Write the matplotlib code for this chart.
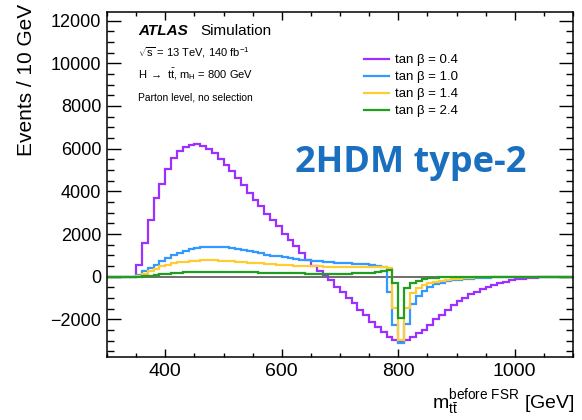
import numpy as np
import matplotlib.pyplot as plt
from matplotlib.ticker import MultipleLocator
from matplotlib.lines import Line2D

plt.rcParams['font.family'] = ['Liberation Sans', 'DejaVu Sans']
plt.rcParams['mathtext.fontset'] = 'custom'
plt.rcParams['mathtext.rm'] = 'Liberation Sans'
plt.rcParams['mathtext.it'] = 'Liberation Sans:italic'
plt.rcParams['mathtext.bf'] = 'Liberation Sans:bold'

# bin edges: 300 -> 1100 GeV, 10 GeV wide
edges = np.arange(300, 1101, 10)

# events per bin, first bin at 300 GeV
tanb_04 = [0, 0, 0, 0, 0,
           550, 1570, 2650, 3700, 4360, 5060, 5570, 5910, 6070, 6180, 6200,
           6120, 5960, 5800, 5530, 5210, 4930, 4620, 4280, 3910, 3600,
           3290, 2950, 2670, 2360, 2020, 1735, 1420, 1110, 800, 490,
           280, 60, -140, -460, -700, -1010, -1245, -1556, -1790, -2100,
           -2334, -2568, -2800, -2960, -3040, -2960, -2800, -2645, -2500, -2250,
           -2000, -1770, -1550, -1320, -1140, -980, -830, -700, -590, -480,
           -380, -300, -230, -170, -120, -85, -60, -40, -25, -15,
           -8, -4, -2, -1]
tanb_10 = [0, 0, 0, 0, 0,
           100, 257, 412, 568, 724, 879, 1004, 1112, 1222, 1300, 1346,
           1377, 1393, 1395, 1385, 1370, 1340, 1290, 1235, 1190, 1140,
           1090, 1040, 990, 950, 910, 870, 835, 800, 770, 740,
           715, 690, 670, 650, 635, 620, 605, 590, 575, 555,
           525, 460, -700, -2250, -3100, -2200, -1300, -900, -650, -480,
           -360, -280, -220, -175, -140, -110, -85, -65, -50, -38,
           -28, -20, -15, -10, -7, -5, -3, -2, -1, 0,
           0, 0, 0, 0]
tanb_14 = [0, 0, 0, 0, 0,
           30, 130, 250, 370, 480, 560, 620, 670, 710, 740, 755,
           765, 770, 765, 755, 740, 720, 700, 680, 660, 640,
           620, 600, 580, 565, 550, 535, 520, 510, 500, 490,
           480, 470, 465, 460, 455, 450, 450, 450, 450, 450,
           445, 440, 400, -1450, -2950, -1450, -760, -520, -400, -310,
           -240, -185, -140, -110, -85, -65, -48, -35, -25, -18,
           -12, -8, -5, -3, -2, -1, 0, 0, 0, 0,
           0, 0, 0, 0]
tanb_24 = [0, 0, 0, 0, 0,
           5, 20, 50, 80, 110, 140, 165, 185, 200, 215, 225,
           232, 236, 238, 237, 235, 230, 225, 218, 210, 202,
           195, 188, 180, 173, 167, 162, 157, 153, 150, 148,
           146, 145, 145, 146, 148, 150, 155, 162, 172, 188,
           215, 250, 330, -290, -1945, -520, -290, -180, -115, -75,
           -50, -35, -25, -18, -12, -8, -5, -3, -2, -1,
           0, 0, 0, 0, 0, 0, 0, 0, 0, 0,
           0, 0, 0, 0]

labels = ['tan β = 0.4', 'tan β = 1.0', 'tan β = 1.4', 'tan β = 2.4']
colors = ['#9b30ff', '#3399ff', '#ffcc33', '#1f9e1f']
series = [tanb_04, tanb_10, tanb_14, tanb_24]

fig = plt.figure(figsize=(5.82, 4.2), dpi=100)
ax = fig.add_axes([107 / 582, 1 - 357 / 420, 466 / 582, 345 / 420])

ax.axhline(0, color='#555555', lw=1.2, zorder=1)
for vals, col in zip(series, colors):
    ax.stairs(vals, edges, color=col, lw=1.6, baseline=None, zorder=2)

ax.set_xlim(300, 1100)
ax.set_ylim(-3760, 12400)

ax.xaxis.set_major_locator(MultipleLocator(200))
ax.xaxis.set_minor_locator(MultipleLocator(50))
ax.yaxis.set_major_locator(MultipleLocator(2000))
ax.yaxis.set_minor_locator(MultipleLocator(500))
ax.tick_params(axis='both', which='both', direction='in', top=True, right=True)
ax.tick_params(axis='x', which='major', length=6, width=1, labelsize=14, pad=4)
ax.tick_params(axis='x', which='minor', length=3, width=1)
ax.tick_params(axis='y', which='major', length=10, width=1, labelsize=13, pad=4)
ax.tick_params(axis='y', which='minor', length=5, width=1)
for s in ax.spines.values():
    s.set_linewidth(1.1)

fig.text(27 / 582, 1 - 4 / 420, 'Events / 10 GeV', rotation=90, fontsize=15,
         ha='center', va='top')
fig.text(575 / 582, 1 - 409 / 420, r'$\mathrm{m}_{\mathrm{t\bar{t}}}^{\mathrm{before\ FSR}}$ [GeV]',
         ha='right', va='baseline', fontsize=14)

# ATLAS label block
def ftxt(px, py, s, **kw):
    fig.text(px / 582, 1 - py / 420, s, va='baseline', **kw)

ftxt(138, 35, 'ATLAS', fontsize=11, fontweight='bold', fontstyle='italic')
ftxt(200, 35, 'Simulation', fontsize=11)
ftxt(138, 56, r'$\sqrt{\mathrm{s}}$ = 13 TeV, 140 fb$^{\mathrm{-1}}$', fontsize=8)
ftxt(138, 78, r'H $\rightarrow$ t$\bar{\mathrm{t}}$, m$_{\mathrm{H}}$ = 800 GeV', fontsize=8)
ftxt(138, 100, 'Parton level, no selection', fontsize=7.4)

handles = [Line2D([], [], color=c, lw=1.6) for c in colors]
ax.legend(handles, labels, loc='upper left', bbox_to_anchor=(0.54, 0.893),
          frameon=False, fontsize=9.5, handlelength=1.9, handletextpad=0.45,
          labelspacing=0.36, borderaxespad=0)

fig.text(411 / 582, 1 - 163 / 420, '2HDM type-2', color='#1a6fbf', fontsize=26,
         fontweight='bold', family='Open Sans', ha='center', va='center')

fig.savefig('out.png', dpi=100)
